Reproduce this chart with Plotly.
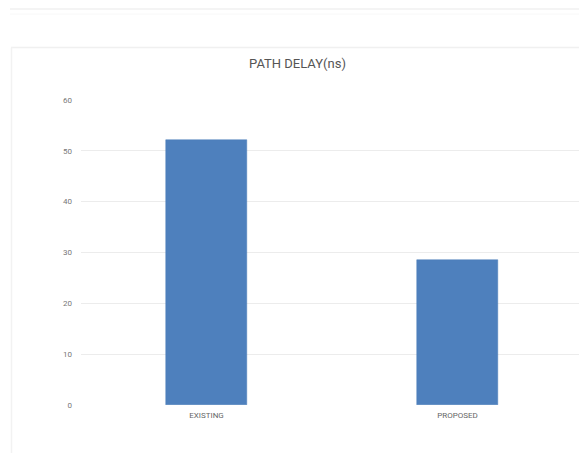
import plotly.graph_objects as go

# Path delay comparison (ns)
categories = ["EXISTING", "PROPOSED"]
delay_ns = [52.1, 28.5]
y_ticks = [0, 10, 20, 30, 40, 50, 60]

W, H = 579, 453
L, R, T, B = 81, 0, 100, 48
plot_w = W - L - R
plot_h = H - T - B


def px_to_paper_x(px):
    return (px - L) / plot_w


def px_to_paper_y(py):
    return (H - B - py) / plot_h


fig = go.Figure()
fig.add_trace(go.Bar(
    x=categories,
    y=delay_ns,
    width=0.32,
    marker=dict(color="#4e80bd", line=dict(color="#4a7cb8", width=0.5)),
    hoverinfo="x+y",
))

# Card outline and faint header rule around the chart
shapes = [
    dict(type="line", xref="paper", yref="paper",
         x0=px_to_paper_x(10), x1=px_to_paper_x(579),
         y0=px_to_paper_y(9), y1=px_to_paper_y(9),
         line=dict(color="#f1f1f1", width=1.5), layer="below"),
    dict(type="line", xref="paper", yref="paper",
         x0=px_to_paper_x(10), x1=px_to_paper_x(579),
         y0=px_to_paper_y(14), y1=px_to_paper_y(14),
         line=dict(color="#f8f8f8", width=1), layer="below"),
    dict(type="line", xref="paper", yref="paper",
         x0=px_to_paper_x(11), x1=px_to_paper_x(579),
         y0=px_to_paper_y(47.5), y1=px_to_paper_y(47.5),
         line=dict(color="#f0f0f0", width=1.5), layer="below"),
    dict(type="line", xref="paper", yref="paper",
         x0=px_to_paper_x(11.5), x1=px_to_paper_x(11.5),
         y0=px_to_paper_y(47.5), y1=px_to_paper_y(453),
         line=dict(color="#f2f2f2", width=1.5), layer="below"),
]

fig.update_layout(
    width=W, height=H,
    margin=dict(l=L, r=R, t=T, b=B, pad=0),
    paper_bgcolor="white",
    plot_bgcolor="white",
    showlegend=False,
    bargap=0,
    font=dict(family="Roboto, Arial, sans-serif", color="#666666"),
    title=dict(
        text="PATH DELAY(ns)",
        x=(297.5) / W, xanchor="center",
        y=1 - 63 / H, yanchor="middle",
        font=dict(size=13, color="#555555", family="Roboto, Arial, sans-serif"),
    ),
    xaxis=dict(
        type="category",
        range=[-0.5, -0.5 + plot_w / 251.0],
        showgrid=False, zeroline=False, showline=False,
        ticks="", tickfont=dict(size=8, color="#666666"),
        ticklabelstandoff=4,
        fixedrange=True,
    ),
    yaxis=dict(
        range=[0, 60],
        tickvals=y_ticks,
        showgrid=True, gridcolor="#ececec", gridwidth=1,
        zeroline=False, showline=False,
        ticks="", tickfont=dict(size=8, color="#777777"),
        ticklabelstandoff=8,
        fixedrange=True,
    ),
    shapes=shapes,
)

fig.write_html("out.html", config={"displayModeBar": False})
